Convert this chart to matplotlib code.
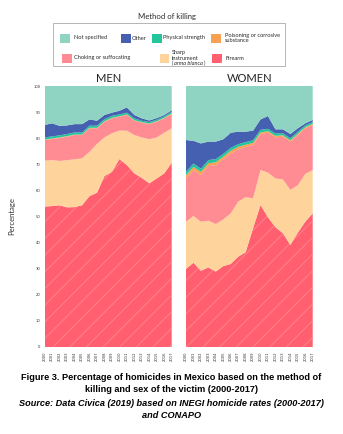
import matplotlib
matplotlib.use("Agg")
import matplotlib.pyplot as plt
from matplotlib.patches import Rectangle

years = list(range(2000, 2018))
year_labels = [str(y) for y in years]

categories = ["Firearm", "Sharp instrument (arma blanca)", "Choking or suffocating",
              "Poisoning or corrosive substance", "Physical strength", "Other", "Not specified"]

# Men (%)
men_firearm = [53.8, 54.0, 54.3, 53.5, 53.6, 54.3, 57.8, 59.1, 65.5, 67.1, 72.0, 69.7, 66.5, 64.8, 62.7, 64.6, 66.5, 70.6]
men_sharp = [17.6, 17.6, 17.0, 18.1, 18.3, 18.0, 17.0, 18.7, 14.8, 14.8, 10.9, 13.2, 14.7, 15.5, 16.9, 15.7, 15.6, 13.2]
men_choking = [7.9, 8.1, 8.8, 9.0, 9.3, 8.9, 9.0, 6.0, 6.0, 5.7, 5.3, 6.0, 5.5, 5.6, 5.8, 6.0, 5.5, 5.5]
men_poison = [0.2, 0.2, 0.2, 0.2, 0.2, 0.2, 0.2, 0.2, 0.2, 0.2, 0.2, 0.2, 0.2, 0.2, 0.2, 0.2, 0.2, 0.2]
men_physical = [0.8, 0.8, 0.8, 0.8, 0.8, 0.8, 0.8, 0.8, 0.8, 0.8, 0.7, 0.7, 0.7, 0.6, 0.6, 0.6, 0.6, 0.6]
men_other = [4.8, 5.0, 3.6, 3.3, 3.2, 3.2, 2.4, 1.9, 1.6, 1.2, 1.4, 2.0, 1.3, 0.9, 0.6, 0.6, 0.5, 0.6]
men_unspecified = [14.9, 14.3, 15.3, 15.1, 14.6, 14.6, 12.8, 13.3, 11.1, 10.2, 9.5, 8.2, 11.1, 12.4, 13.2, 12.3, 11.1, 9.3]

# Women (%)
women_firearm = [29.9, 32.3, 29.2, 30.5, 28.9, 31.0, 31.8, 34.6, 36.3, 45.5, 54.4, 49.7, 45.9, 43.6, 39.1, 43.8, 48.0, 51.2]
women_sharp = [18.1, 17.9, 18.8, 17.9, 18.2, 17.9, 19.4, 21.1, 21.1, 11.5, 13.4, 17.1, 18.7, 20.6, 21.1, 18.2, 18.3, 16.6]
women_choking = [16.6, 17.6, 17.9, 20.9, 22.6, 23.0, 23.0, 20.0, 19.3, 20.4, 13.8, 15.3, 15.7, 16.4, 18.5, 19.2, 17.5, 17.3]
women_poison = [1.2, 1.2, 1.2, 1.1, 1.1, 1.0, 1.0, 1.0, 0.8, 0.8, 0.6, 0.6, 0.6, 0.5, 0.5, 0.5, 0.4, 0.4]
women_physical = [1.3, 1.3, 1.2, 1.2, 1.2, 1.1, 1.1, 1.0, 1.0, 1.0, 1.0, 0.9, 0.9, 0.8, 0.8, 0.8, 0.7, 0.7]
women_other = [12.2, 8.7, 9.7, 7.1, 6.7, 5.6, 5.8, 4.8, 4.0, 3.7, 4.0, 4.9, 1.6, 1.5, 1.6, 1.3, 0.8, 0.8]
women_unspecified = [20.7, 21.0, 22.0, 21.3, 21.3, 20.4, 17.9, 17.5, 17.5, 17.1, 12.8, 11.5, 16.6, 16.6, 18.4, 16.2, 14.3, 13.0]

colors = {
    "Firearm": "#ff5f6e",
    "Sharp instrument (arma blanca)": "#fed39c",
    "Choking or suffocating": "#ff8b93",
    "Poisoning or corrosive substance": "#f9a053",
    "Physical strength": "#23c59d",
    "Other": "#4560b0",
    "Not specified": "#8fd4c2",
}
HATCH_EDGE = "#ff8f99"

plt.rcParams["font.family"] = ["Lato", "DejaVu Sans"]
plt.rcParams["hatch.linewidth"] = 0.5

fig = plt.figure(figsize=(3.43, 4.34), dpi=100)
W, H = 343.0, 434.0


def fx(px):
    return px / W


def fy(py):
    return 1 - py / H


def draw_panel(ax, series, title):
    lower = [0.0] * len(years)
    for name, vals in zip(categories, series):
        upper = [a + b for a, b in zip(lower, vals)]
        if name == "Firearm":
            ax.fill_between(years, lower, upper, facecolor=colors[name],
                            edgecolor=HATCH_EDGE, linewidth=0, hatch="//")
        else:
            ax.fill_between(years, lower, upper, facecolor=colors[name],
                            edgecolor="none", linewidth=0)
        lower = upper
    ax.set_xlim(2000, 2017)
    ax.set_ylim(0, 100)
    ax.set_xticks(years)
    ax.set_xticklabels(year_labels, rotation=90, fontsize=2.7, color="#333333",
                       family="DejaVu Sans")
    ax.set_yticks(range(0, 101, 10))
    ax.tick_params(length=0, pad=3)
    for s in ax.spines.values():
        s.set_visible(False)
    ax.set_title(title, fontsize=8, pad=3, color="#222222")


ax_m = fig.add_axes([fx(44.7), fy(347), fx(127), 261 / H])
draw_panel(ax_m, [men_firearm, men_sharp, men_choking, men_poison, men_physical,
                  men_other, men_unspecified], "MEN")
ax_m.set_yticklabels([str(v) for v in range(0, 101, 10)], fontsize=2.7,
                     color="#333333", family="DejaVu Sans")
ax_m.set_ylabel("Percentage", fontsize=5.5, labelpad=13, color="#333333")

ax_w = fig.add_axes([fx(186), fy(347), fx(126.7), 261 / H])
draw_panel(ax_w, [women_firearm, women_sharp, women_choking, women_poison,
                  women_physical, women_other, women_unspecified], "WOMEN")
ax_w.set_yticklabels([])

# Legend box
fig.text(fx(167), fy(16), "Method of killing", ha="center", va="center",
         fontsize=5.6, color="#2a2a2a")
fig.patches.append(Rectangle((fx(53), fy(66)), fx(232), (66 - 23) / H,
                             transform=fig.transFigure, fill=False,
                             edgecolor="#aaaaaa", linewidth=0.6))

legend_items = [
    ("Not specified", 60, 38, 74),
    ("Other", 121, 38, 131.5),
    ("Physical strength", 152, 38, 163),
    ("Poisoning or corrosive\nsubstance", 211, 38, 225),
    ("Choking or suffocating", 62, 58, 74),
    ("Sharp\ninstrument\n(arma blanca)", 159.5, 58, 172),
    ("Firearm", 212, 58, 225),
]
cat_for_label = {
    "Not specified": "Not specified",
    "Other": "Other",
    "Physical strength": "Physical strength",
    "Poisoning or corrosive\nsubstance": "Poisoning or corrosive substance",
    "Choking or suffocating": "Choking or suffocating",
    "Sharp\ninstrument\n(arma blanca)": "Sharp instrument (arma blanca)",
    "Firearm": "Firearm",
}
LFS = 4.1
for label, px, py, tx in legend_items:
    cat = cat_for_label[label]
    rect = Rectangle((fx(px), fy(py + 4.5)), fx(9.5), 9 / H,
                     transform=fig.transFigure, facecolor=colors[cat],
                     edgecolor=HATCH_EDGE if cat == "Firearm" else "none",
                     linewidth=0, hatch="//" if cat == "Firearm" else None)
    fig.patches.append(rect)
    if cat == "Sharp instrument (arma blanca)":
        fig.text(fx(tx), fy(py - 5.5), "Sharp", ha="left", va="center",
                 fontsize=LFS, color="#2a2a2a")
        fig.text(fx(tx), fy(py), "instrument", ha="left", va="center",
                 fontsize=LFS, color="#2a2a2a")
        fig.text(fx(tx), fy(py + 5.5), "(", ha="left", va="center",
                 fontsize=LFS, color="#2a2a2a")
        fig.text(fx(tx + 1.7), fy(py + 5.5), "arma blanca", ha="left", va="center",
                 fontsize=LFS, color="#2a2a2a", style="italic")
        fig.text(fx(tx + 32), fy(py + 5.5), ")", ha="left", va="center",
                 fontsize=LFS, color="#2a2a2a")
    else:
        fig.text(fx(tx), fy(py), label, ha="left", va="center",
                 fontsize=LFS, color="#2a2a2a", linespacing=1.0)

# Caption
cap_font = ["Liberation Sans", "DejaVu Sans"]
CFS = 6.6
fig.text(0.5, fy(378), "Figure 3. Percentage of homicides in Mexico based on the method of",
         ha="center", va="center", fontsize=CFS, weight="bold", family=cap_font)
fig.text(0.5, fy(390), "killing and sex of the victim (2000-2017)",
         ha="center", va="center", fontsize=CFS, weight="bold", family=cap_font)
fig.text(0.5, fy(404), "Source: Data Civica (2019) based on INEGI homicide rates (2000-2017)",
         ha="center", va="center", fontsize=CFS, weight="bold", style="italic",
         family=cap_font)
fig.text(0.5, fy(416), "and CONAPO",
         ha="center", va="center", fontsize=CFS, weight="bold", style="italic",
         family=cap_font)

fig.savefig("out.png", dpi=100, facecolor="white")
